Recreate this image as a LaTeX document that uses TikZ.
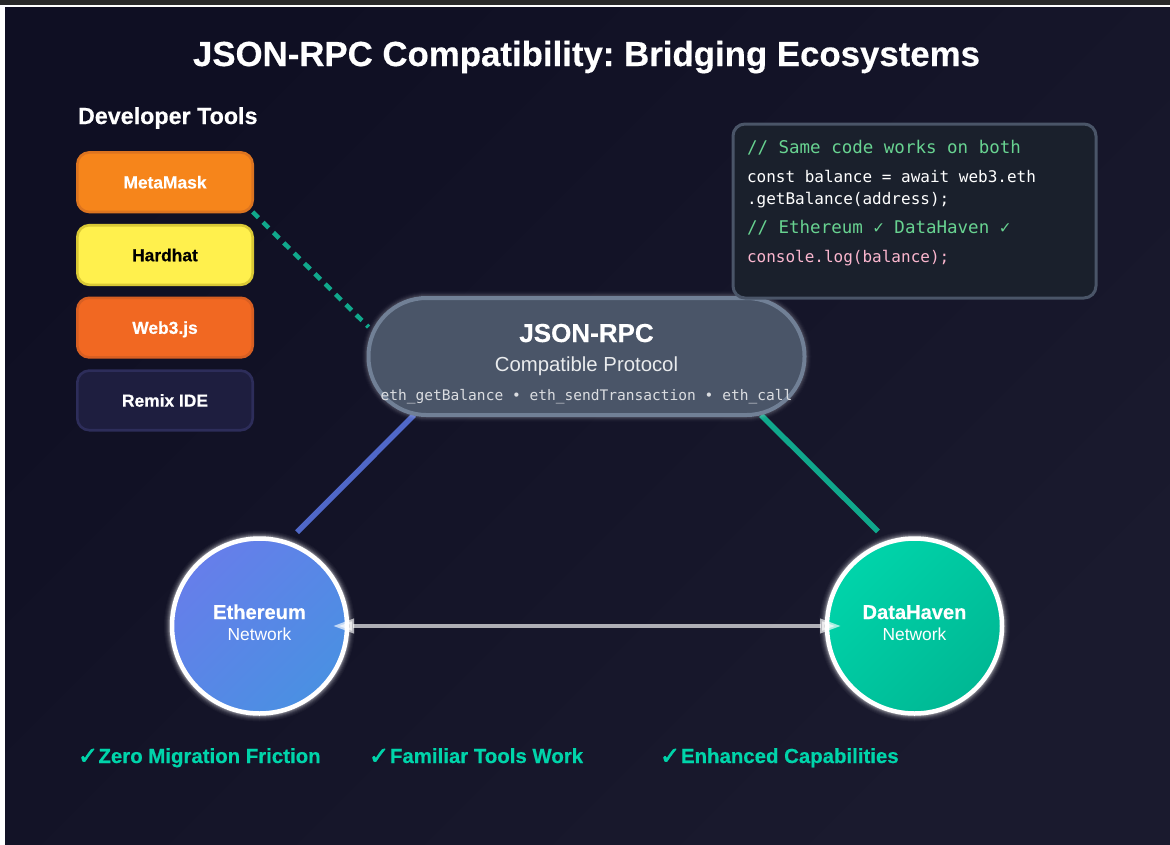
\documentclass[tikz,border=0pt]{standalone}
\usepackage{fontspec}
\setmainfont[BoldFeatures={FakeBold=0.4}]{Liberation Sans}
\newfontfamily\monof{DejaVu Sans Mono}
\newfontfamily\symf[FakeBold=2.5]{DejaVu Sans}
\usetikzlibrary{arrows.meta,calc}
\frenchspacing
\definecolor{bgA}{HTML}{0F0F23}
\definecolor{bgB}{HTML}{1A1A2E}
\definecolor{mint}{HTML}{00D4AA}
\definecolor{cmt}{HTML}{68D391}
\definecolor{pinkc}{HTML}{FBB6CE}
\definecolor{mmF}{HTML}{F6851B}
\definecolor{mmD}{HTML}{DC7420}
\definecolor{hhF}{HTML}{FFF04D}
\definecolor{hhD}{HTML}{D9C835}
\definecolor{wjF}{HTML}{F16822}
\definecolor{wjD}{HTML}{D85F22}
\definecolor{rxF}{HTML}{1E1E3F}
\definecolor{rxD}{HTML}{2D2D5A}
\definecolor{pillF}{HTML}{4A5568}
\definecolor{pillD}{HTML}{718096}
\definecolor{boxF}{HTML}{1A202C}
\definecolor{linkB}{HTML}{5068C8}
\definecolor{linkG}{HTML}{10A88C}
\definecolor{ethA}{HTML}{667EEA}
\definecolor{ethB}{HTML}{4A90E2}
\definecolor{dhA}{HTML}{00D4AA}
\definecolor{dhB}{HTML}{00B894}
\newcommand{\fs}[1]{\fontsize{#1}{#1}\selectfont}
\tikzset{
  x=1pt,y=-1pt,
  every node/.style={inner sep=0pt,outer sep=0pt},
  toolbox/.style={draw,line width=2.6pt,rounded corners=12pt,minimum width=175.4pt,minimum height=59.6pt,
    font=\bfseries\fs{17.4},text height=12.5pt,text depth=0pt},
  glowwhite/.style={preaction={draw=white,draw opacity=.03,line width=16pt},
    preaction={draw=white,draw opacity=.04,line width=14pt},
    preaction={draw=white,draw opacity=.06,line width=12pt},
    preaction={draw=white,draw opacity=.09,line width=10pt},
    preaction={draw=white,draw opacity=.14,line width=8pt},
    preaction={draw=white,draw opacity=.2,line width=6pt}},
  glowpill/.style={preaction={draw=white,draw opacity=.015,line width=14pt},
    preaction={draw=white,draw opacity=.025,line width=12pt},
    preaction={draw=white,draw opacity=.04,line width=10pt},
    preaction={draw=white,draw opacity=.06,line width=8pt},
    preaction={draw=white,draw opacity=.06,line width=6pt}},
  network/.style={circle,draw=white,line width=4.5pt,minimum size=175pt,glowwhite},
  lbl/.style={anchor=base,text=white},
  feature/.style={anchor=base west,text=mint,font=\bfseries\fs{20.4}},
  featcheck/.style={anchor=base west,text=mint,font=\symf\fs{24}},
  codeL/.style={anchor=base west,font=\monof\fs{16}},
  codeC/.style={anchor=base west,font=\monof\fs{17.5},text=cmt},
  link/.style={line width=5.5pt},
}
\begin{document}
\begin{tikzpicture}
\useasboundingbox (0,0) rectangle (1170,844);
% page
\fill[white] (0,0) rectangle (1170,844);
\fill[black!84] (0,0) rectangle (1170,5.3);
\shade[shading=axis,top color=bgA,bottom color=bgB,shading angle=45] (5,7) rectangle (1170,844);
% title
\node[anchor=base,text=white,font=\bfseries\fs{34.8}] (title) at (586.5,66) {JSON-RPC Compatibility: Bridging Ecosystems};
\node[anchor=base west,text=white,font=\bfseries\fs{23.3}] (devtools) at (78,124) {Developer Tools};
% tools
\node[toolbox,fill=mmF,draw=mmD,text=white] (metamask) at (165,182.2) {MetaMask};
\node[toolbox,fill=hhF,draw=hhD,text=black] (hardhat) at (165,255) {Hardhat};
\node[toolbox,fill=wjF,draw=wjD,text=white] (web3) at (165,327.6) {Web3.js};
\node[toolbox,fill=rxF,draw=rxD,text=white] (remix) at (165,400.4) {Remix IDE};
% networks
\node[network,shading=axis,top color=ethA,bottom color=ethB,shading angle=45] (eth) at (259.5,626) {};
\node[network,shading=axis,top color=dhA,bottom color=dhB,shading angle=45] (dh) at (914.5,626) {};
% protocol pill reference for connectors
\path (586.5,356.5) node[minimum width=436pt,minimum height=117pt] (pillref) {};
\draw[link,linkB,shorten >=15pt] ($(pillref.south)+(-172.5,0)$) -- (eth.72.4);
\draw[link,linkG,shorten >=15.5pt] ($(pillref.south)+(174.5,0)$) -- (dh.107.6);
\draw[linkG,line width=4.5pt,dash pattern=on 8pt off 6.6pt] (metamask.south east) -- ($(pillref.west)+(0,-29.5)$);
% protocol pill
\node[draw=pillD,fill=pillF,line width=4pt,rounded corners=58pt,minimum width=436pt,minimum height=117pt,glowpill] (jsonrpc) at (586.5,356.5) {};
\node[lbl,font=\bfseries\fs{26}] (rpcname) at (586.5,342) {JSON-RPC};
\node[anchor=base,text=white!88!pillF,font=\fs{20.35}] (rpcsub) at (586.5,371) {Compatible Protocol};
\node[anchor=base,text=white!80!pillF,font=\monof\fs{14.55}] (rpcmeth) at (586.5,400) {eth\_getBalance • eth\_sendTransaction • eth\_call};
% code panel
\node[draw=pillF,fill=boxF,line width=3pt,rounded corners=12pt,minimum width=363pt,minimum height=174pt] (code) at (914.5,211) {};
\node[codeC] (c1) at (747,153) {// Same code works on both};
\node[codeL,text=white] (c2) at (747,182) {const balance = await web3.eth};
\node[codeL,text=white] (c3) at (747,204) {.getBalance(address);};
\node[codeC] (c4) at (747,233) {// Ethereum ✓ DataHaven ✓};
\node[codeL,text=pinkc] (c5) at (747,262) {console.log(balance);};
% network labels
\node[lbl,font=\bfseries\fs{20.1}] (ethname) at (259.5,619) {Ethereum};
\node[lbl,font=\fs{17.4}] (ethsub) at (259.5,640) {Network};
\node[lbl,font=\bfseries\fs{20.1}] (dhname) at (914.5,619) {DataHaven};
\node[lbl,font=\fs{17.4}] (dhsub) at (914.5,640) {Network};
% bridge arrow
\draw[{Triangle[length=21pt,width=14pt]}-{Triangle[length=21pt,width=14pt]},white,opacity=.66,line width=4pt,shorten <=-14pt,shorten >=-14pt] (eth.east) -- (dh.west);
% features
\node[featcheck] (k1) at (78,764) {✓};
\node[feature] (f1) at (98.5,763) {Zero Migration Friction};
\node[featcheck] (k2) at (369,764) {✓};
\node[feature] (f2) at (390,763) {Familiar Tools Work};
\node[featcheck] (k3) at (660,764) {✓};
\node[feature] (f3) at (681,763) {Enhanced Capabilities};
\end{tikzpicture}
\end{document}
